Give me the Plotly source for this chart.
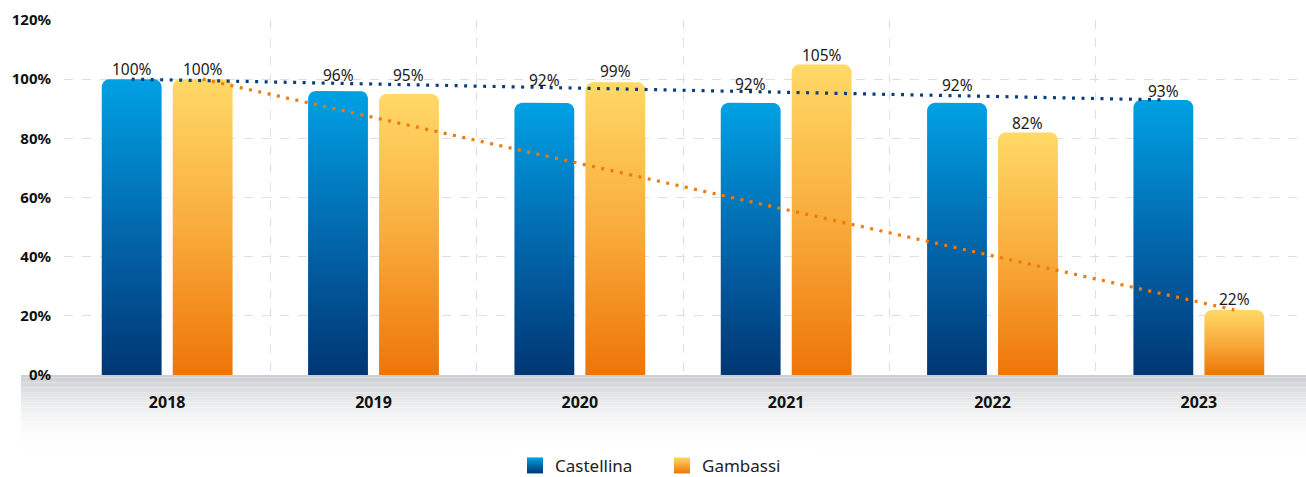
import math
import plotly.graph_objects as go

# data
years = ['2018', '2019', '2020', '2021', '2022', '2023']
castellina = [100, 96, 92, 92, 92, 93]
gambassi = [100, 95, 99, 105, 82, 22]
y_ticks = [0, 20, 40, 60, 80, 100, 120]

# label lift above each bar (px), some are pushed above the dotted line
lift_c = [10, 16, 23, 19, 18, 9]
lift_g = [10, 19, 11, 9, 9, 11]

# layout geometry (px) - used for rounded bar tops
W, H = 1306, 477
M_L, M_R, M_T, M_B = 64, 4, 20, 102
Y_MAX = 120
px_x = (W - M_L - M_R) / len(years)
px_y = (H - M_T - M_B) / Y_MAX

OFFSET = 0.172
HALF_W = 0.145
RADIUS = 8

FONT = 'Noto Sans'
blue_scale = [[0, '#003673'], [0.5, '#0268ad'], [1, '#00a1e4']]
orange_scale = [[0, '#ee7508'], [0.5, '#f8ac3c'], [1, '#ffd966']]


def bar_path(c, h):
    # rounded-top rectangle in data units
    rx = RADIUS / px_x
    ry = min(RADIUS / px_y, h / 2)
    xs, ys = [c - HALF_W, c - HALF_W], [0, h - ry]
    n = 8
    for k in range(1, n + 1):
        a = math.pi - k * (math.pi / 2) / n
        xs.append(c - HALF_W + rx + rx * math.cos(a))
        ys.append(h - ry + ry * math.sin(a))
    for k in range(1, n + 1):
        a = math.pi / 2 - k * (math.pi / 2) / n
        xs.append(c + HALF_W - rx + rx * math.cos(a))
        ys.append(h - ry + ry * math.sin(a))
    xs += [c + HALF_W, c - HALF_W]
    ys += [0, 0]
    return xs, ys


fig = go.Figure()

for values, off, scale in [(castellina, -OFFSET, blue_scale), (gambassi, OFFSET, orange_scale)]:
    for i, v in enumerate(values):
        xs, ys = bar_path(i + off, v)
        fig.add_trace(go.Scatter(
            x=xs, y=ys, mode='none', fill='toself',
            fillgradient=dict(type='vertical', colorscale=scale, start=0, stop=v),
            showlegend=False, hoverinfo='skip'
        ))

# dotted lines joining first and last year
n = len(years) - 1
fig.add_trace(go.Scatter(
    x=[-OFFSET, n - OFFSET], y=[castellina[0], castellina[-1]],
    mode='lines', line=dict(color='#0a3d7c', width=3.2, dash='3px,6.5px'),
    showlegend=False, hoverinfo='skip'
))
fig.add_trace(go.Scatter(
    x=[OFFSET, n + OFFSET], y=[gambassi[0], gambassi[-1]],
    mode='lines', line=dict(color='#ef7a0d', width=3.2, dash='3px,6.5px'),
    showlegend=False, hoverinfo='skip'
))

# value labels
for values, off, lifts in [(castellina, -OFFSET, lift_c), (gambassi, OFFSET, lift_g)]:
    for i, v in enumerate(values):
        fig.add_annotation(
            x=i + off, y=v, text=f'{v}%', showarrow=False,
            yanchor='middle', yshift=lifts[i],
            font=dict(family=FONT, size=15.5, color='#1a1a1a')
        )

# legend entries
fig.add_trace(go.Scatter(
    x=[None], y=[None], mode='markers', name='Castellina',
    marker=dict(symbol='square', size=22, color='#00a1e4',
                gradient=dict(type='vertical', color='#003673'))
))
fig.add_trace(go.Scatter(
    x=[None], y=[None], mode='markers', name='Gambassi',
    marker=dict(symbol='square', size=22, color='#ffd966',
                gradient=dict(type='vertical', color='#ee7508'))
))

# grey band under the axis, fading quickly to white
plot_h = H - M_T - M_B
plot_w = W - M_L - M_R
band_px = 75
steps = 30
top = (205, 208, 211)
for k in range(steps):
    t = k / steps
    e = 1 - (1 - t) ** 2
    r, g, b = (int(c + (255 - c) * e) for c in top)
    fig.add_shape(
        type='rect', xref='paper', yref='paper',
        x0=(21 - M_L) / plot_w, x1=1 + M_R / plot_w,
        y0=-(k + 1) * band_px / steps / plot_h, y1=-k * band_px / steps / plot_h,
        fillcolor=f'rgb({r},{g},{b})', line=dict(width=0), layer='below'
    )

fig.update_layout(
    width=W, height=H,
    margin=dict(l=M_L, r=M_R, t=M_T, b=M_B, autoexpand=False),
    plot_bgcolor='white', paper_bgcolor='white',
    font=dict(family=FONT, color='#111'),
    xaxis=dict(
        range=[-0.5, n + 0.5], tickvals=list(range(len(years))), ticktext=years,
        showgrid=False, zeroline=False, showline=False, ticks='',
        tickfont=dict(family=FONT, size=16, color='#111', weight='bold'),
        ticklabelstandoff=16,
        minor=dict(tickvals=[i + 0.5 for i in range(n)], showgrid=True,
                   gridcolor='#dcdfe3', griddash='dash', gridwidth=1),
    ),
    yaxis=dict(
        range=[0, Y_MAX], tickvals=y_ticks, ticktext=[f'{t}%' for t in y_ticks],
        showgrid=True, gridcolor='#dcdfe3', griddash='dash', gridwidth=1,
        zeroline=False, showline=False, ticks='',
        tickfont=dict(family=FONT, size=15, color='#111', weight='bold'),
        ticklabelstandoff=12,
    ),
    legend=dict(
        orientation='h', x=(515 - M_L) / plot_w, xanchor='left',
        y=-0.256, yanchor='middle', entrywidth=102,
        font=dict(family=FONT, size=17, color='#222'),
    ),
)

# drop the default page margin so the figure sits at the window corner
fig.write_html('out.html', config={'displayModeBar': False},
               post_script="document.body.style.margin='0';")
